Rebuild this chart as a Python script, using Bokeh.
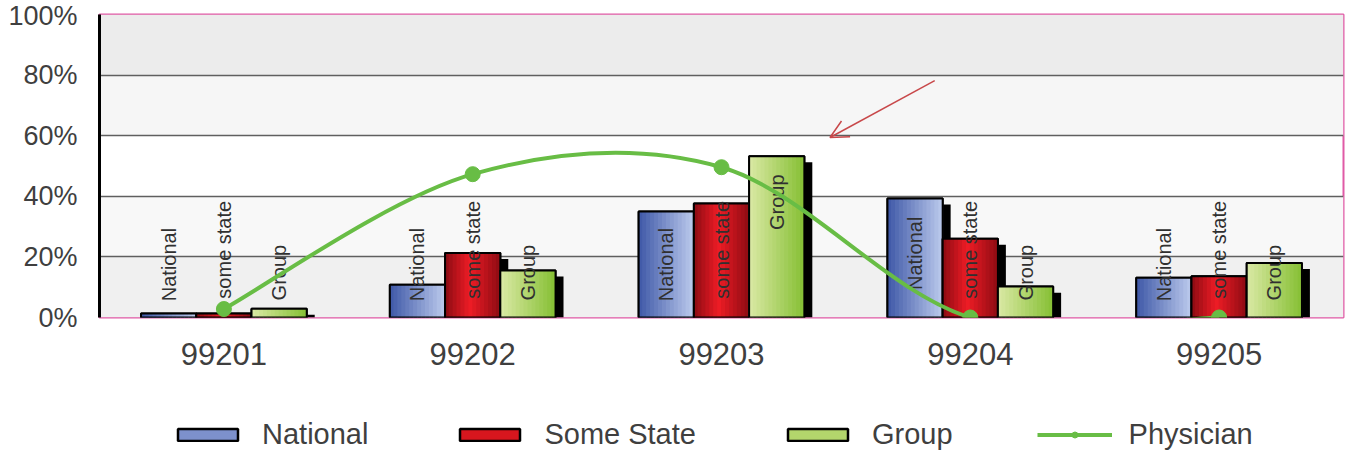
import numpy as np
from bokeh.plotting import figure
from bokeh.layouts import column
from bokeh.models import (Range1d, FixedTicker, PrintfTickFormatter, ColumnDataSource,
                          Legend, LegendItem, Arrow, OpenHead, BoxAnnotation)
from bokeh.core.properties import value
from bokeh.embed import file_html
from bokeh.resources import INLINE

# ---------------- data ----------------
categories = ["99201", "99202", "99203", "99204", "99205"]
national = [1.3, 10.8, 35.0, 39.3, 13.1]
some_state = [1.3, 21.3, 37.6, 26.0, 13.6]
group = [2.9, 15.5, 53.2, 10.2, 18.0]
physician = [2.8, 47.3, 49.6, 0.0, 0.0]
series_names = ["National", "Some State", "Group"]
bar_labels = ["National", "some state", "Group"]
y_ticks = [0, 20, 40, 60, 80, 100]

# ---------------- styles ----------------
FONT = "Liberation Sans"
TXT = "#3f3f3f"
GREEN = "#68bd45"
PINK = "#e05aa6"
gradients = [
    [(0.0, "#3d57a6"), (1.0, "#bccaed")],
    [(0.0, "#8a0b12"), (0.45, "#ee1c25"), (1.0, "#8e0c13")],
    [(0.0, "#dbe9a6"), (1.0, "#86c034")],
]
mid_colors = ["#7d91cc", "#d8161e", "#b3d66c"]
label_len_px = [73, 100, 56]

WIDTH = 1348
CHART_H = 381
LEGEND_H = 70
FRAME_TOP = 14
FRAME_BOTTOM = 317
PX_PER_PCT = (FRAME_BOTTOM - FRAME_TOP) / 100.0


def hex2rgb(h):
    h = h.lstrip("#")
    return np.array([int(h[i:i + 2], 16) for i in (0, 2, 4)], dtype=float)


def grad_color(stops, t):
    for (p0, c0), (p1, c1) in zip(stops[:-1], stops[1:]):
        if p0 <= t <= p1:
            f = (t - p0) / (p1 - p0)
            c = hex2rgb(c0) * (1 - f) + hex2rgb(c1) * f
            return "#%02x%02x%02x" % tuple(int(round(v)) for v in c)
    return stops[-1][1]


p = figure(width=WIDTH, height=CHART_H, output_backend="svg", toolbar_location=None,
           x_range=Range1d(0, len(categories)), y_range=Range1d(0, 100),
           min_border_left=99, min_border_right=5, min_border_top=FRAME_TOP,
           min_border_bottom=CHART_H - FRAME_BOTTOM)

p.background_fill_color = "white"
p.border_fill_color = "white"
p.outline_line_color = PINK
p.outline_line_width = 2

# background bands
for b, t, c in [(80, 100, "#ececec"), (60, 80, "#f6f6f6"), (20, 40, "#f8f8f8"), (0, 20, "#f0f0f0")]:
    p.add_layout(BoxAnnotation(bottom=b, top=t, fill_color=c, fill_alpha=1,
                               line_color=None, level="image"))

# grid
p.xgrid.visible = False
p.ygrid.ticker = FixedTicker(ticks=y_ticks)
p.ygrid.grid_line_color = "#5f5f5f"
p.ygrid.grid_line_width = 1.5

# axes
xs = np.arange(len(categories)) + 0.5
p.xaxis.ticker = FixedTicker(ticks=list(xs))
p.xaxis.major_label_overrides = {float(x): c for x, c in zip(xs, categories)}
p.xaxis.axis_line_color = None
p.xaxis.major_tick_line_color = None
p.xaxis.minor_tick_line_color = None
p.xaxis.major_tick_out = 0
p.xaxis.major_label_standoff = 25
p.xaxis.major_label_text_font = FONT
p.xaxis.major_label_text_font_size = "31px"
p.xaxis.major_label_text_color = TXT

p.yaxis.ticker = FixedTicker(ticks=y_ticks)
p.yaxis.formatter = PrintfTickFormatter(format="%d%%")
p.yaxis.axis_line_color = "black"
p.yaxis.axis_line_width = 3
p.yaxis.major_tick_line_color = None
p.yaxis.minor_tick_line_color = None
p.yaxis.major_tick_out = 0
p.yaxis.major_label_standoff = 22
p.yaxis.major_label_text_font = FONT
p.yaxis.major_label_text_font_size = "27px"
p.yaxis.major_label_text_color = TXT

# ---------------- legend strip (separate figure below the chart) ----------------
lg = figure(width=WIDTH, height=LEGEND_H, output_backend="svg", toolbar_location=None,
            x_range=Range1d(0, len(categories)), y_range=Range1d(0, 100),
            min_border_left=0, min_border_right=0, min_border_top=0, min_border_bottom=0)
lg.axis.visible = False
lg.grid.visible = False
lg.outline_line_color = None
lg.background_fill_color = "white"
lg.border_fill_color = "white"

# bars
W = 0.222
NSL = 14
legend_items = []
label_x, label_y, label_t = [], [], []
for s, vals in enumerate([national, some_state, group]):
    vals = np.array(vals, dtype=float)
    centers = xs + (s - 1) * W
    # shadow
    p.vbar(x=centers + 0.032, width=W, bottom=0, top=vals - 2.0,
           fill_color="black", line_color=None)
    # base bar
    p.vbar(x=centers, width=W, bottom=0, top=vals, fill_color=mid_colors[s],
           line_color="black", line_width=2)
    # gradient slices
    sx, st, sc = [], [], []
    for k in range(NSL):
        col = grad_color(gradients[s], (k + 0.5) / NSL)
        for c, v in zip(centers, vals):
            sx.append(c - W / 2 + (k + 0.5) * W / NSL)
            st.append(v)
            sc.append(col)
    p.vbar(x="x", width=W / NSL * 1.2, bottom=0, top="top", fill_color="color",
           line_color=None,
           source=ColumnDataSource(dict(x=sx, top=st, color=sc)))
    # outline
    p.vbar(x=centers, width=W, bottom=0, top=vals, fill_alpha=0,
           line_color="black", line_width=2)
    # legend swatch: same series in the legend strip, hidden (only its legend glyph shows)
    sw = lg.vbar(x=centers, top=vals, width=W, fill_color=mid_colors[s],
                 line_color="black", line_width=2.5, visible=False)
    legend_items.append(LegendItem(label=series_names[s], renderers=[sw]))
    L = label_len_px[s] / PX_PER_PCT
    for c, v in zip(centers, vals):
        label_x.append(c)
        label_y.append(max(v - 6.0, 5.5 + L))
        label_t.append(bar_labels[s])

p.text(x="x", y="y", text="t", angle=np.pi / 2, text_align="right",
       text_baseline="middle", text_font=value(FONT), text_font_size="20px",
       text_color="#303030",
       source=ColumnDataSource(dict(x=label_x, y=label_y, t=label_t)))

# physician smooth line (Catmull-Rom -> cubic Bezier)
ys = np.array(physician, dtype=float)
n = len(xs)
bz = dict(x0=[], y0=[], x1=[], y1=[], cx0=[], cy0=[], cx1=[], cy1=[])
for i in range(n - 1):
    pm = i - 1 if i > 0 else i
    pp = i + 2 if i + 2 < n else i + 1
    bz["x0"].append(xs[i]); bz["y0"].append(ys[i])
    bz["x1"].append(xs[i + 1]); bz["y1"].append(ys[i + 1])
    bz["cx0"].append(xs[i] + (xs[i + 1] - xs[pm]) / 6)
    bz["cy0"].append(ys[i] + (ys[i + 1] - ys[pm]) / 6)
    bz["cx1"].append(xs[i + 1] - (xs[pp] - xs[i]) / 6)
    bz["cy1"].append(ys[i + 1] - (ys[pp] - ys[i]) / 6)
p.bezier(x0="x0", y0="y0", x1="x1", y1="y1", cx0="cx0", cy0="cy0",
         cx1="cx1", cy1="cy1", line_color=GREEN, line_width=4,
         source=ColumnDataSource(bz))
p.scatter(x=xs, y=ys, size=15, fill_color=GREEN, line_color=GREEN)

sw_line = lg.line(x=xs, y=ys, line_color=GREEN, line_width=4, visible=False)
sw_dot = lg.scatter(x=xs, y=ys, size=15, fill_color=GREEN, line_color=GREEN, visible=False)
legend_items.append(LegendItem(label="Physician", renderers=[sw_line, sw_dot]))

# annotation arrow
ARROW_START = (3.357, 78.2)
ARROW_END = (2.936, 59.4)
p.add_layout(Arrow(end=OpenHead(size=18, line_color="#c8484a", line_width=1.5),
                   x_start=ARROW_START[0], y_start=ARROW_START[1],
                   x_end=ARROW_END[0], y_end=ARROW_END[1],
                   line_color="#c8484a", line_width=1.5))

legend = Legend(items=legend_items, orientation="horizontal", location=(71, 0),
                glyph_width=75, glyph_height=15, label_standoff=17, spacing=84,
                label_text_font=FONT, label_text_font_size="29px",
                label_text_color=TXT, border_line_color=None,
                background_fill_alpha=0, margin=0, padding=2,
                inactive_fill_alpha=0, click_policy="none")
lg.add_layout(legend, "center")

layout = column(p, lg, spacing=0)
open("out.html", "w").write(file_html(layout, INLINE))
